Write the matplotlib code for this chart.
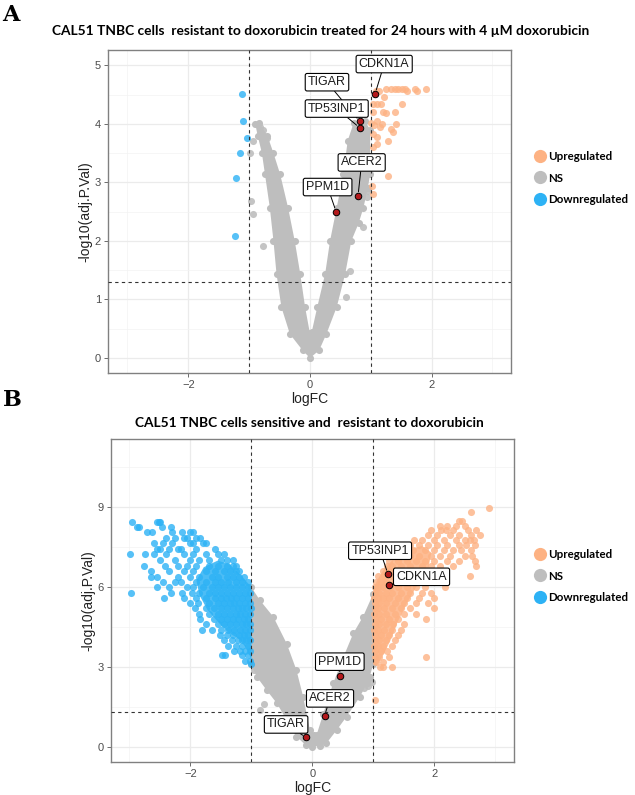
import matplotlib
matplotlib.use("Agg")
import matplotlib.pyplot as plt
from matplotlib.lines import Line2D

# ---------------- colours ----------------
UP = "#FDB283"
NS = "#BEBEBE"
DOWN = "#2DB2F5"
RED = "#B3191C"

legend_labels = ["Upregulated", "NS", "Downregulated"]

# ================= Panel A data =================
a_title = "CAL51 TNBC cells  resistant to doxorubicin treated for 24 hours with 4 \u00b5M doxorubicin"

# dense gray (NS) cloud outline (logFC, -log10 p)
a_ns_poly_x = [-0.90, -0.86, -0.79, -0.74, -0.66, -0.60, -0.55, -0.47, -0.33, -0.12, 0.0,
               0.15, 0.27, 0.44, 0.58, 0.68, 0.80, 0.88, 0.95, 0.99, 0.99, 0.90,
               0.72, 0.62, 0.55, 0.44, 0.33, 0.25, 0.12, 0.03, 0.0,
               -0.08, -0.16, -0.25, -0.36, -0.49, -0.60, -0.70, -0.84]
a_ns_poly_y = [4.00, 3.80, 3.50, 3.14, 2.57, 2.00, 1.44, 0.87, 0.41, 0.13, 0.0,
               0.13, 0.41, 0.87, 1.44, 2.00, 2.30, 2.57, 2.90, 3.14, 3.90, 4.05,
               4.02, 3.71, 3.14, 2.57, 2.00, 1.44, 0.87, 0.45, 0.42,
               0.87, 1.44, 2.00, 2.57, 3.14, 3.50, 3.80, 4.02]
# isolated gray points
a_ns_x = [-0.97, -0.93, -0.78, -0.99, -0.93, -0.82, -0.78, 0.66, 0.59, 0.88, 0.93, 0.96, -0.70, -0.74]
a_ns_y = [2.69, 2.46, 1.91, 3.50, 3.71, 3.94, 3.90, 1.49, 1.04, 2.23, 2.75, 2.85, 3.75, 3.60]

a_up_x = [1.25, 1.33, 1.40, 1.45, 1.52, 1.57, 1.72, 1.90,
          1.08, 1.14, 1.60, 1.76, 1.22,
          1.04, 1.11, 1.17, 1.51,
          1.04, 1.20, 1.25, 1.39,
          1.01, 1.05, 1.10, 1.15, 1.18, 1.42, 1.34,
          1.04, 1.10, 1.37, 1.29, 1.04, 1.10,
          1.28, 1.02, 1.04]
a_up_y = [4.60, 4.60, 4.60, 4.60, 4.60, 4.60, 4.60, 4.60,
          4.56, 4.56, 4.56, 4.56, 4.45,
          4.34, 4.34, 4.34, 4.34,
          4.20, 4.20, 4.18, 4.20,
          4.02, 3.98, 4.05, 3.95, 4.00, 4.00, 3.91,
          3.83, 3.77, 3.86, 3.71, 3.60, 3.65,
          3.11, 2.94, 2.80]

a_down_x = [-1.11, -1.10, -1.04, -1.15, -1.22, -1.24]
a_down_y = [4.51, 4.04, 3.76, 3.50, 3.07, 2.08]

a_genes = ["CDKN1A", "TIGAR", "TP53INP1", "ACER2", "PPM1D"]
a_gene_x = [1.07, 0.82, 0.82, 0.79, 0.43]
a_gene_y = [4.51, 4.04, 3.93, 2.77, 2.50]
a_label_x = [1.22, 0.28, 0.44, 0.85, 0.29]
a_label_y = [5.02, 4.71, 4.26, 3.34, 2.92]

# ================= Panel B data =================
b_title = "CAL51 TNBC cells sensitive and  resistant to doxorubicin"

b_ns_poly_x = [-1.00, -1.00, -0.91, -0.75, -0.58, -0.42, -0.26, -0.10, 0.0,
               0.12, 0.23, 0.40, 0.56, 0.78, 0.90, 0.94, 1.00, 1.00,
               0.83, 0.67, 0.51, 0.34, 0.18, 0.07, 0.02,
               -0.04, -0.15, -0.26, -0.42, -0.64, -0.86]
b_ns_poly_y = [6.00, 3.10, 2.63, 2.13, 1.63, 1.00, 0.38, 0.05, 0.0,
               0.03, 0.13, 0.63, 1.13, 1.88, 2.40, 2.63, 3.13, 5.76,
               4.89, 4.26, 3.38, 2.38, 1.25, 0.45, 0.45,
               0.63, 1.88, 2.88, 3.88, 4.89, 5.51]
b_ns_x = [-0.86, -0.80, 0.89, 0.85, 0.93, 0.97, -0.95, 0.92]
b_ns_y = [1.38, 1.60, 2.38, 2.20, 2.60, 2.45, 2.90, 2.30]

# dense cores of the coloured clouds (outline)
b_down_core_x = [-1.00, -1.08, -1.20, -1.38, -1.55, -1.72, -1.85, -1.90, -1.78, -1.55, -1.35, -1.15, -1.00]
b_down_core_y = [3.30, 3.70, 4.05, 4.30, 4.70, 5.15, 5.70, 6.25, 6.75, 7.00, 6.85, 6.40, 6.00]
b_up_core_x = [1.00, 1.00, 1.06, 1.18, 1.35, 1.55, 1.80, 1.95, 1.90, 1.70, 1.55, 1.40, 1.28, 1.15, 1.06]
b_up_core_y = [3.10, 5.90, 6.25, 6.70, 7.10, 7.40, 7.55, 7.30, 6.70, 6.00, 5.40, 4.70, 4.00, 3.40, 3.05]

b_down_rows = [
    (8.46, [-2.95, -2.54, -2.49, -2.52]),
    (8.25, [-2.87, -2.84, -2.31, -2.47]),
    (8.07, [-2.71, -2.63, -2.14, -2.00, -2.30, -1.95]),
    (7.85, [-2.40, -2.25, -2.05, -1.84, -1.90, -2.10]),
    (7.65, [-2.60, -2.45, -2.30, -2.00, -1.80, -1.75, -1.95]),
    (7.45, [-2.55, -2.50, -2.35, -2.15, -1.90, -1.60, -2.20]),
    (7.25, [-2.99, -2.75, -2.60, -2.40, -2.10, -1.95, -1.75, -1.55, -1.45]),
    (7.02, [-2.50, -2.25, -2.00, -1.85, -1.70, -1.50, -1.40, -1.30]),
    (6.80, [-2.76, -2.42, -2.20, -2.05, -1.90, -1.70, -1.55, -1.40, -1.30, -1.25]),
    (6.60, [-2.65, -2.35, -2.10, -1.95, -1.75, -1.60, -1.45, -1.35, -1.25, -1.20]),
    (6.40, [-2.65, -2.55, -2.20, -2.00, -1.85, -1.65, -1.55, -1.40, -1.30, -1.20, -1.12]),
    (6.20, [-2.45, -2.25, -2.15, -1.90, -1.75, -1.60, -1.50, -1.38, -1.25, -1.15, -1.05]),
    (6.00, [-2.55, -2.35, -2.05, -1.95, -1.80, -1.65, -1.55, -1.45, -1.35, -1.25, -1.15, -1.05]),
    (5.80, [-2.98, -2.32, -2.14, -1.97, -1.85, -1.70, -1.60, -1.50, -1.40, -1.30, -1.20, -1.10, -1.02]),
    (5.60, [-2.43, -2.10, -1.90, -1.75, -1.60, -1.50, -1.42, -1.33, -1.25, -1.15, -1.05]),
    (5.40, [-2.00, -1.88, -1.70, -1.55, -1.45, -1.35, -1.28, -1.20, -1.10, -1.02]),
    (5.20, [-1.92, -1.75, -1.62, -1.50, -1.40, -1.30, -1.22, -1.15, -1.08, -1.01]),
    (5.00, [-1.85, -1.70, -1.55, -1.45, -1.35, -1.25, -1.18, -1.10, -1.03]),
    (4.80, [-1.84, -1.62, -1.50, -1.40, -1.30, -1.22, -1.12, -1.05]),
    (4.60, [-1.75, -1.55, -1.45, -1.35, -1.25, -1.15, -1.08, -1.02]),
    (4.40, [-1.81, -1.65, -1.50, -1.38, -1.28, -1.18, -1.10, -1.03]),
    (4.20, [-1.51, -1.40, -1.30, -1.20, -1.12, -1.05]),
    (4.00, [-1.45, -1.32, -1.22, -1.15, -1.08, -1.02]),
    (3.80, [-1.38, -1.25, -1.15, -1.06]),
    (3.60, [-1.29, -1.18, -1.10, -1.03]),
    (3.45, [-1.48, -1.43, -1.15, -1.05]),
    (3.22, [-1.10, -1.02]),
    (3.10, [-1.00]),
]

b_up_rows = [
    (8.96, [2.89]),
    (8.84, [2.60]),
    (8.50, [2.41, 2.45]),
    (8.30, [2.10, 2.20, 2.35, 2.50]),
    (8.15, [1.95, 2.11, 2.19, 2.30, 2.55, 2.69]),
    (7.98, [1.90, 2.05, 2.25, 2.40, 2.60, 2.74]),
    (7.78, [1.66, 1.80, 2.00, 2.15, 2.35, 2.50, 2.58, 2.65]),
    (7.58, [1.60, 1.75, 1.90, 2.05, 2.20, 2.40, 2.52, 2.66]),
    (7.38, [1.39, 1.50, 1.65, 1.85, 2.00, 2.15, 2.30, 2.44, 2.60]),
    (7.18, [1.35, 1.45, 1.60, 1.75, 1.95, 2.10, 2.25, 2.50, 2.62]),
    (6.98, [1.25, 1.40, 1.55, 1.70, 1.85, 2.00, 2.20, 2.41, 2.66]),
    (6.80, [1.22, 1.30, 1.45, 1.60, 1.80, 1.95, 2.10, 2.30, 2.69]),
    (6.60, [1.15, 1.25, 1.35, 1.50, 1.65, 1.85, 2.00, 2.15]),
    (6.42, [1.08, 1.18, 1.30, 1.45, 1.60, 1.75, 1.90, 2.05, 2.58]),
    (6.20, [1.05, 1.12, 1.20, 1.35, 1.50, 1.65, 1.80, 1.95, 2.10]),
    (6.02, [1.02, 1.08, 1.15, 1.28, 1.40, 1.55, 1.70, 1.85, 2.17]),
    (5.80, [1.02, 1.10, 1.20, 1.30, 1.45, 1.60, 1.80, 1.95]),
    (5.60, [1.01, 1.07, 1.15, 1.25, 1.40, 1.55, 1.75, 2.00]),
    (5.40, [1.03, 1.10, 1.20, 1.35, 1.50, 1.70, 1.90]),
    (5.20, [1.02, 1.08, 1.18, 1.30, 1.45, 1.60, 2.00]),
    (5.00, [1.01, 1.10, 1.20, 1.35, 1.50, 1.70]),
    (4.80, [1.03, 1.12, 1.25, 1.40, 1.87]),
    (4.60, [1.02, 1.10, 1.20, 1.32, 1.50]),
    (4.40, [1.01, 1.08, 1.18, 1.30, 1.45]),
    (4.20, [1.03, 1.12, 1.25, 1.40]),
    (4.00, [1.02, 1.10, 1.20, 1.35]),
    (3.80, [1.01, 1.08, 1.15, 1.30]),
    (3.60, [1.03, 1.12, 1.22]),
    (3.38, [1.02, 1.10, 1.25, 1.87]),
    (3.18, [1.05, 1.15]),
    (3.00, [1.11, 1.16, 1.30]),
    (1.76, [1.03]),
]

b_genes = ["TP53INP1", "CDKN1A", "PPM1D", "ACER2", "TIGAR"]
b_gene_x = [1.24, 1.25, 0.45, 0.20, -0.10]
b_gene_y = [6.49, 6.07, 2.67, 1.17, 0.35]
b_label_x = [1.11, 1.79, 0.45, 0.29, -0.43]
b_label_y = [7.37, 6.39, 3.20, 1.82, 0.84]


def flatten(rows):
    xs = [x for _, row in rows for x in row]
    ys = [y for y, row in rows for _ in row]
    return xs, ys


b_down_x, b_down_y = flatten(b_down_rows)
b_up_x, b_up_y = flatten(b_up_rows)

# ================= figure =================
W, H = 635, 795
fig = plt.figure(figsize=(W / 100, H / 100), dpi=100)

DOT = 26
LABEL_FONT = ["Liberation Sans", "DejaVu Sans"]
TITLE_FONT = ["Lato", "DejaVu Sans"]


def style_axes(ax, xlim, ylim, yticks, yminor):
    ax.set_xlim(*xlim)
    ax.set_ylim(*ylim)
    ax.set_xticks([-2, 0, 2])
    ax.set_xticks([-3, -1, 1, 3], minor=True)
    ax.set_yticks(yticks)
    ax.set_yticks(yminor, minor=True)
    ax.grid(which="major", color="#EBEBEB", lw=0.9)
    ax.grid(which="minor", color="#F3F3F3", lw=0.5)
    ax.set_axisbelow(True)
    ax.tick_params(which="major", direction="out", length=3, width=0.6,
                   color="#555555", labelsize=8, labelcolor="#4D4D4D", pad=2)
    ax.tick_params(which="minor", length=0)
    for lab in ax.get_xticklabels() + ax.get_yticklabels():
        lab.set_fontfamily(LABEL_FONT)
    for s in ax.spines.values():
        s.set_color("#808080")
        s.set_linewidth(1.0)
    ax.set_xlabel("logFC", fontsize=10, family=LABEL_FONT, color="#222222", labelpad=2)
    ax.set_ylabel("-log10(adj.P.Val)", fontsize=10, family=LABEL_FONT, color="#222222", labelpad=2)
    for v in (-1, 1):
        ax.axvline(v, color="#333333", lw=0.8, ls=(0, (3, 3)), zorder=4)
    ax.axhline(1.301, color="#333333", lw=0.8, ls=(0, (3, 3)), zorder=4)


def draw_panel(ax, poly_x, poly_y, ns_x, ns_y, up_x, up_y, dn_x, dn_y,
               genes, gx, gy, lx, ly, cores=None):
    ax.fill(poly_x, poly_y, color=NS, lw=0, zorder=2)
    ax.scatter(poly_x, poly_y, s=DOT, color=NS, lw=0, zorder=2)
    ax.scatter(ns_x, ns_y, s=DOT, color=NS, lw=0, alpha=0.9, zorder=2)
    if cores:
        for cx, cy, col in cores:
            ax.fill(cx, cy, color=col, lw=0, alpha=0.85, zorder=3)
    ax.scatter(up_x, up_y, s=DOT, color=UP, lw=0, alpha=0.8, zorder=3)
    ax.scatter(dn_x, dn_y, s=DOT, color=DOWN, lw=0, alpha=0.8, zorder=3)
    ax.scatter(gx, gy, s=22, color=RED, edgecolor="black", lw=0.7, zorder=6)
    for g, x, y, tx, ty in zip(genes, gx, gy, lx, ly):
        ax.annotate(g, xy=(x, y), xytext=(tx, ty), textcoords="data",
                    ha="center", va="center", fontsize=9, family=LABEL_FONT,
                    color="#1A1A1A", zorder=7,
                    bbox=dict(boxstyle="round,pad=0.22,rounding_size=0.15",
                              fc="white", ec="black", lw=0.8),
                    arrowprops=dict(arrowstyle="-", color="black", lw=0.7,
                                    shrinkA=0, shrinkB=3))


def add_legend(ax, y_anchor):
    handles = [Line2D([], [], ls="", marker="o", markersize=9.5, color=c, mec="none")
               for c in (UP, NS, DOWN)]
    leg = ax.legend(handles, legend_labels, loc="center left",
                    bbox_to_anchor=y_anchor, frameon=False,
                    prop=dict(family=TITLE_FONT, weight="bold", size=8.3),
                    handletextpad=0.05, labelspacing=0.95, borderaxespad=0,
                    borderpad=0, handlelength=1.3)
    return leg


# ---- Panel A ----
axA = fig.add_axes([108 / W, 1 - 372.7 / H, (510.7 - 108) / W, (372.7 - 50) / H])
style_axes(axA, (-3.32, 3.30), (-0.25, 5.26), [0, 1, 2, 3, 4, 5],
           [0.5, 1.5, 2.5, 3.5, 4.5])
draw_panel(axA, a_ns_poly_x, a_ns_poly_y, a_ns_x, a_ns_y, a_up_x, a_up_y,
           a_down_x, a_down_y, a_genes, a_gene_x, a_gene_y, a_label_x, a_label_y)
add_legend(axA, (1.055, 1 - (178 - 50) / (372.7 - 50)))

# ---- Panel B ----
axB = fig.add_axes([111 / W, 1 - 761.7 / H, (514.3 - 111) / W, (761.7 - 439) / H])
style_axes(axB, (-3.30, 3.31), (-0.56, 11.57), [0, 3, 6, 9], [1.5, 4.5, 7.5, 10.5])
draw_panel(axB, b_ns_poly_x, b_ns_poly_y, b_ns_x, b_ns_y, b_up_x, b_up_y,
           b_down_x, b_down_y, b_genes, b_gene_x, b_gene_y, b_label_x, b_label_y,
           cores=[(b_down_core_x, b_down_core_y, DOWN), (b_up_core_x, b_up_core_y, UP)])
add_legend(axB, (1.045, 1 - (576 - 439) / (761.7 - 439)))

# ---- titles and panel letters ----
fig.text(321 / W, 1 - 31 / H, a_title, ha="center", va="center",
         fontsize=9.9, weight="bold", family=TITLE_FONT, color="black")
fig.text(309 / W, 1 - 423 / H, b_title, ha="center", va="center",
         fontsize=9.9, weight="bold", family=TITLE_FONT, color="black")
fig.text(2 / W, 1 - 15 / H, "A", ha="left", va="center", fontsize=16,
         weight="heavy", family=["DejaVu Serif"], color="black")
fig.text(3 / W, 1 - 400 / H, "B", ha="left", va="center", fontsize=16,
         weight="heavy", family=["DejaVu Serif"], color="black")

fig.savefig("out.png", dpi=100)
